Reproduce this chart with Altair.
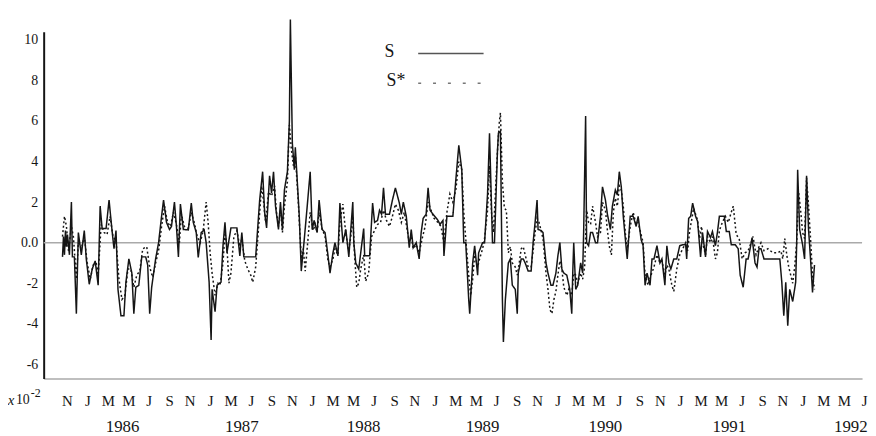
import json
import altair as alt
import pandas as pd

# ---- data (day index ~ days since early Oct 1985, value in units of 10^-2) ----
s_points = [
    (3, -0.7), (6, 0.3), (9, -0.6), (12, 0.6), (15, -0.2), (18, 0.4), (24, -0.6), (30, 2.0), (33, -0.7), (39, -0.7),
    (45, -3.5), (51, 0.5), (60, -0.6), (69, 0.6), (75, -0.8), (84, -2.05), (93, -1.3), (102, -0.9), (111, -2.1), (117, 1.8),
    (123, 0.7), (135, 0.7), (144, 2.1), (153, 0.6), (159, -0.3), (165, 0.6), (171, -2.3), (180, -3.6), (189, -3.6), (195, -1.95),
    (204, -0.8), (213, -1.5), (219, -3.5), (225, -2.2), (234, -2.1), (243, -0.7), (255, -0.7), (261, -1.1), (267, -3.5), (273, -2.2),
    (285, -0.8), (294, 0.0), (303, 1.3), (309, 2.1), (318, 1.0), (327, 0.65), (333, 0.8), (342, 2.0), (348, 0.8), (354, -0.7),
    (360, 1.9), (369, 0.65), (384, 0.63), (393, 1.95), (399, 1.0), (408, 0.5), (414, -0.73), (423, 0.5), (432, 0.63), (438, 0.0),
    (447, -1.95), (453, -4.8), (456, -2.3), (465, -3.4), (471, -2.1), (483, -1.95), (489, -0.15), (495, 1.0), (501, -0.5), (513, 0.73),
    (531, 0.73), (540, -0.65), (546, 0.5), (552, -0.7), (588, -0.7), (600, 2.1), (609, 3.5), (615, 1.5), (621, 0.73), (630, 3.3),
    (636, 2.45), (642, 3.5), (648, 1.8), (657, 0.65), (663, 2.0), (669, 0.65), (675, 2.6), (684, 3.5), (690, 6.0), (693, 11.0),
    (699, 4.9), (705, 3.6), (708, 4.7), (720, 1.3), (726, -1.4), (735, 0.15), (744, 1.8), (753, 3.5), (759, 0.65), (765, 1.1),
    (774, 0.5), (780, 2.1), (789, 0.65), (798, 0.5), (807, -0.65), (813, -1.5), (822, -0.5), (828, 0.0), (837, -0.65), (843, 1.95),
    (852, 0.0), (861, 0.65), (870, -0.7), (873, 0.0), (882, 2.0), (885, 0.0), (891, -1.0), (900, -1.3), (906, -0.5), (915, 0.7),
    (918, -0.65), (933, -0.65), (942, 1.95), (948, 1.0), (957, 1.1), (963, 1.6), (969, 1.4), (975, 2.7), (981, 1.4), (993, 1.4),
    (1002, 2.1), (1011, 2.7), (1023, 1.95), (1029, 1.4), (1035, 2.0), (1044, 1.3), (1053, -0.25), (1059, 0.65), (1065, -0.25), (1074, 0.0),
    (1083, -0.8), (1089, 0.5), (1095, 1.2), (1104, 1.4), (1110, 2.7), (1116, 1.6), (1125, 1.4), (1140, 1.1), (1146, 0.9), (1155, 1.1),
    (1158, -0.65), (1167, 1.3), (1185, 1.3), (1194, 3.1), (1203, 4.8), (1212, 3.6), (1218, 0.0), (1224, 0.0), (1233, -2.8), (1236, -3.5),
    (1245, -1.0), (1251, -0.15), (1260, -1.6), (1263, -0.5), (1275, 0.0), (1281, 0.0), (1290, 2.4), (1296, 5.4), (1305, 0.0), (1311, 0.0),
    (1320, 4.5), (1323, 5.4), (1329, 5.5), (1335, -2.8), (1338, -4.9), (1344, -2.8), (1353, -1.0), (1359, -0.8), (1365, -2.1), (1374, -2.3),
    (1380, -3.5), (1383, -1.5), (1392, -0.8), (1398, -0.8), (1404, -1.0), (1413, -1.4), (1422, -1.4), (1428, 0.0), (1434, 1.0), (1440, 2.1),
    (1443, 0.65), (1452, 0.6), (1458, 0.5), (1467, -1.0), (1473, -1.5), (1482, -2.1), (1488, -2.1), (1497, -1.5), (1503, -0.65), (1509, 0.0),
    (1515, -1.3), (1521, -1.5), (1530, -1.6), (1539, -2.3), (1545, -3.5), (1548, -1.5), (1551, 0.0), (1557, -2.3), (1563, -2.1), (1572, -1.0),
    (1578, -1.5), (1581, 0.5), (1587, 6.25), (1590, 0.0), (1596, -0.15), (1602, 0.5), (1608, 0.5), (1617, 0.0), (1623, 0.0), (1632, 1.3),
    (1638, 2.75), (1647, 2.1), (1653, 1.4), (1662, 0.65), (1668, 1.8), (1677, 2.6), (1683, 2.35), (1689, 3.5), (1695, 2.75), (1701, 1.3),
    (1710, -0.3), (1713, -0.8), (1722, 1.3), (1731, 1.3), (1740, 0.8), (1746, 1.3), (1755, 0.15), (1761, -0.15), (1767, -2.1), (1773, -1.5),
    (1782, -2.1), (1788, -0.8), (1794, -0.8), (1803, -0.15), (1812, -1.0), (1818, -0.8), (1827, -2.1), (1833, -0.15), (1839, -1.0), (1845, -1.3),
    (1854, -0.8), (1863, -0.8), (1872, -0.15), (1881, -0.1), (1890, -0.1), (1893, -0.8), (1899, 1.2), (1905, 1.3), (1911, 1.95), (1920, 1.3),
    (1926, 1.05), (1935, -0.7), (1941, 0.5), (1950, -0.7), (1956, 0.55), (1965, 0.25), (1971, 0.55), (1980, -0.15), (1986, 0.5), (1992, 1.3),
    (2007, 1.3), (2013, 0.55), (2022, 0.55), (2028, -0.1), (2040, -0.1), (2049, -0.3), (2055, -1.6), (2064, -2.2), (2073, -0.8), (2079, -0.8),
    (2085, -0.3), (2091, 0.25), (2100, -1.0), (2106, -1.2), (2112, -0.3), (2118, -0.3), (2127, -0.8), (2175, -0.8), (2181, -1.95), (2187, -3.6),
    (2193, -1.95), (2199, -4.1), (2205, -2.3), (2214, -2.9), (2223, -1.95), (2226, -0.1), (2229, 3.6), (2235, 0.65), (2244, -0.1), (2250, -0.8),
    (2256, 3.3), (2262, 0.65), (2268, -0.8), (2274, -2.45), (2280, -1.1),
]

sstar_points = [
    (3, 0.3), (9, 1.3), (15, 0.8), (21, -0.4), (30, 0.8), (36, 0.3), (45, -1.8), (51, 0.0), (60, -0.3), (69, 0.3),
    (78, -1.0), (87, -1.8), (96, -1.1), (105, -1.0), (111, -1.6), (120, 0.9), (129, 0.5), (138, 0.4), (147, 1.3), (156, 0.3),
    (165, 0.1), (174, -1.8), (183, -2.8), (192, -2.6), (201, -1.3), (210, -1.3), (219, -2.2), (228, -1.6), (237, -1.4), (246, -0.3),
    (258, -0.2), (267, -1.2), (276, -1.7), (285, -1.0), (294, -0.4), (303, 0.8), (312, 1.8), (321, 1.0), (330, 0.8), (339, 1.5),
    (348, 0.9), (357, 0.0), (363, 1.4), (372, 0.8), (384, 0.7), (393, 1.5), (402, 1.0), (411, 0.3), (420, 0.0), (429, 0.6),
    (438, 2.0), (444, 1.0), (450, -0.5), (456, -1.5), (465, -2.6), (474, -2.0), (480, -2.1), (489, -1.0), (495, 0.5), (501, -0.2),
    (507, -2.0), (513, -1.5), (522, 0.3), (531, 0.6), (540, -0.2), (546, 0.2), (555, -0.9), (564, -1.3), (573, -1.6), (579, -1.95),
    (588, -1.2), (597, 0.8), (606, 2.8), (612, 2.0), (618, 1.0), (627, 2.5), (636, 2.3), (645, 2.8), (651, 1.5), (657, 0.8),
    (663, 1.6), (669, 0.5), (675, 1.8), (684, 3.0), (690, 5.8), (696, 4.6), (702, 3.8), (708, 4.3), (717, 2.0), (726, -0.8),
    (732, -0.3), (738, -1.4), (747, 0.3), (753, 1.5), (762, 0.6), (768, 0.9), (774, 0.5), (780, 1.5), (789, 0.7), (798, 0.3),
    (807, -0.9), (813, -1.2), (822, -0.8), (828, -0.3), (837, -0.6), (843, 1.0), (852, 1.9), (861, 0.4), (870, -0.4), (876, 0.3),
    (882, 1.3), (888, -0.8), (894, -2.2), (900, -2.0), (906, -1.3), (915, -0.6), (921, -1.9), (930, -1.5), (939, 0.3), (948, 0.6),
    (957, 0.9), (966, 1.0), (975, 1.6), (984, 1.1), (993, 0.8), (1002, 1.3), (1011, 1.9), (1020, 1.6), (1029, 1.0), (1038, 1.5),
    (1044, 0.9), (1053, 0.0), (1059, 0.3), (1065, -0.3), (1074, -0.1), (1083, -0.5), (1092, 0.2), (1101, 0.8), (1110, 2.0), (1119, 1.6),
    (1128, 1.2), (1140, 1.0), (1149, 0.8), (1158, 0.0), (1167, 1.5), (1176, 2.4), (1185, 2.0), (1194, 2.6), (1203, 4.0), (1212, 3.6),
    (1218, 1.5), (1224, 0.2), (1233, -1.6), (1239, -2.6), (1245, -1.8), (1251, -0.6), (1260, -1.2), (1266, -0.8), (1275, -0.3), (1281, 0.2),
    (1290, 1.6), (1296, 3.8), (1302, 1.5), (1308, 0.5), (1314, 2.5), (1320, 4.5), (1326, 6.0), (1329, 6.4), (1335, 3.0), (1341, 1.7),
    (1347, 1.6), (1353, -0.5), (1359, -0.2), (1365, -1.0), (1374, -1.2), (1380, -1.6), (1386, -1.0), (1392, -0.3), (1398, -0.2), (1404, -0.6),
    (1413, -1.2), (1422, -1.2), (1428, -0.4), (1434, 0.5), (1440, 1.2), (1446, 1.0), (1452, 0.6), (1458, 0.2), (1467, -1.5), (1473, -2.3),
    (1479, -3.3), (1485, -3.5), (1491, -2.8), (1497, -2.4), (1503, -1.6), (1509, -0.9), (1515, -1.3), (1521, -2.2), (1530, -2.6), (1536, -2.3),
    (1545, -2.6), (1551, -1.5), (1557, -1.6), (1563, -2.0), (1572, -1.5), (1578, -1.8), (1584, -1.2), (1590, 1.6), (1596, 1.0), (1602, 0.9),
    (1608, 1.8), (1617, 1.0), (1623, 0.3), (1632, 0.5), (1638, 2.0), (1647, 1.6), (1653, 0.6), (1659, -0.2), (1665, -0.6), (1671, 1.5),
    (1677, 2.2), (1683, 1.8), (1689, 2.8), (1695, 2.6), (1701, 1.8), (1707, 0.5), (1713, -0.3), (1722, 0.8), (1731, 1.5), (1740, 0.9),
    (1746, 1.0), (1755, 0.4), (1761, 0.0), (1767, -1.6), (1776, -2.1), (1785, -1.6), (1794, -1.2), (1803, -0.6), (1812, -1.0), (1818, -0.9),
    (1827, -1.6), (1833, -1.1), (1839, -1.3), (1848, -2.1), (1854, -2.4), (1863, -1.3), (1872, -0.6), (1881, -0.3), (1890, 0.0), (1896, -0.4),
    (1902, 0.6), (1908, 1.1), (1914, 1.7), (1920, 1.4), (1926, 1.1), (1932, 0.2), (1938, 0.8), (1944, -0.2), (1950, -0.6), (1956, 0.3),
    (1965, 0.0), (1971, 0.3), (1980, -0.8), (1986, -0.5), (1992, 0.6), (2001, 1.0), (2010, 1.3), (2019, 1.0), (2028, 1.5), (2034, 1.8),
    (2043, 0.4), (2052, 0.2), (2061, -0.8), (2070, -0.5), (2079, -0.4), (2088, 0.0), (2094, 0.3), (2103, -0.6), (2112, -0.2), (2118, 0.0),
    (2127, -0.4), (2139, -0.3), (2154, -0.5), (2169, -0.5), (2178, -0.4), (2184, -0.8), (2190, 0.2), (2196, -0.6), (2202, -1.2), (2208, -1.6),
    (2214, -2.0), (2220, -1.2), (2226, 0.0), (2232, 2.5), (2238, 1.6), (2244, 0.5), (2250, 0.2), (2256, 3.2), (2262, 1.8), (2268, 0.2),
    (2274, -1.6), (2280, -2.3),
]

series_names = ["S", "S*"]

month_labels = ["N",
                "J", "M", "M", "J", "S", "N",
                "J", "M", "J", "S", "N",
                "J", "M", "M", "J", "S", "N",
                "J", "M", "M", "J", "S", "N",
                "J", "M", "M", "J", "S", "N",
                "J", "M", "M", "J", "S", "N",
                "J", "M", "M", "J"]

year_labels = ["1986", "1987", "1988", "1989", "1990", "1991", "1992"]
year_day = [185, 546, 915, 1275, 1647, 2022, 2390]

y_ticks = [10, 8, 6, 4, 2, 0, -2, -4, -6]
y_tick_labels = ["10", "8", "6", "4", "2", "0.0", "-2", "-4", "-6"]

# ---- build tables ----
rows = [{"day": d, "val": v, "series": "S"} for d, v in s_points]
rows += [{"day": d, "val": v, "series": "S*"} for d, v in sstar_points]
df = pd.DataFrame(rows)
df_years = pd.DataFrame({"day": year_day, "label": year_labels})
# month label slots are evenly spaced along the axis (typeset row)
df_months = pd.DataFrame({"day": [18 + 61.9 * i for i in range(len(month_labels))], "label": month_labels})

FONT = "Liberation Serif"
INK = "#151515"
W, H = 826, 350

x_scale = alt.Scale(domain=[-54, 2424], nice=False, zero=False)
y_scale = alt.Scale(domain=[-6.7, 10.4], nice=False, zero=False)

y_label_expr = f"{json.dumps(y_tick_labels)}[indexof({json.dumps(y_ticks)}, datum.value)]"

lines = alt.Chart(df).mark_line(strokeWidth=1.5, color=INK).encode(
    x=alt.X("day:Q", scale=x_scale,
            axis=alt.Axis(labels=False, title=None, ticks=False, grid=False,
                          domainColor="#aaaaaa", domainWidth=1.5)),
    y=alt.Y("val:Q", scale=y_scale,
            axis=alt.Axis(values=y_ticks, labelExpr=y_label_expr, title=None,
                          ticks=False, grid=False, domainColor=INK, domainWidth=2,
                          labelFont=FONT, labelFontSize=14, labelColor=INK,
                          labelPadding=6)),
    strokeDash=alt.StrokeDash(
        "series:N",
        scale=alt.Scale(domain=series_names, range=[[1, 0], [2, 2.5]]),
        legend=None),
    order="day:Q",
)

zero_rule = alt.Chart(pd.DataFrame({"v": [0]})).mark_rule(color="#aaaaaa", strokeWidth=1.5).encode(
    y=alt.Y("v:Q", scale=y_scale)
)

months = alt.Chart(df_months).mark_text(font=FONT, fontSize=15, color=INK, baseline="middle").encode(
    x=alt.X("day:Q", scale=x_scale),
    y=alt.value(H + 23),
    text="label:N",
)

years = alt.Chart(df_years).mark_text(font=FONT, fontSize=17, color=INK, baseline="middle").encode(
    x=alt.X("day:Q", scale=x_scale),
    y=alt.value(H + 49),
    text="label:N",
)

one = pd.DataFrame({"a": [0]})
# legend (drawn as keys at the top centre of the plot)
leg_s = alt.Chart(one).mark_text(font=FONT, fontSize=18, color=INK, baseline="middle", align="left").encode(
    x=alt.value(344), y=alt.value(20), text=alt.value(series_names[0]))
leg_s2 = alt.Chart(one).mark_text(font=FONT, fontSize=18, color=INK, baseline="middle", align="left").encode(
    x=alt.value(346), y=alt.value(50), text=alt.value(series_names[1]))
leg_line1 = alt.Chart(one).mark_rule(color="#555555", strokeWidth=1.5).encode(
    x=alt.value(378), x2=alt.value(444), y=alt.value(22))
leg_line2 = alt.Chart(one).mark_rule(color="#777777", strokeWidth=1.5, strokeDash=[3, 12]).encode(
    x=alt.value(378), x2=alt.value(444), y=alt.value(52))

# x10^-2 unit note
unit_x = alt.Chart(one).mark_text(font=FONT, fontSize=15, fontStyle="italic", color=INK,
                                  baseline="middle", align="center").encode(
    x=alt.value(-33), y=alt.value(H + 22), text=alt.value("x"))
unit_10 = alt.Chart(one).mark_text(font=FONT, fontSize=14, color=INK, baseline="middle", align="left").encode(
    x=alt.value(-28), y=alt.value(H + 22), text=alt.value("10"))
unit_exp = alt.Chart(one).mark_text(font=FONT, fontSize=12, color=INK, baseline="middle", align="left").encode(
    x=alt.value(-13), y=alt.value(H + 15), text=alt.value("-2"))

chart = alt.layer(zero_rule, lines, months, years, leg_line1, leg_line2, leg_s, leg_s2,
                  unit_x, unit_10, unit_exp).properties(
    width=W, height=H,
    autosize=alt.AutoSizeParams(type="none"),
    padding={"left": 36, "top": 22, "right": 6, "bottom": 56},
    background="white",
).configure_view(stroke=None)

chart.save("out.html", embed_options={"renderer": "svg", "actions": False})
